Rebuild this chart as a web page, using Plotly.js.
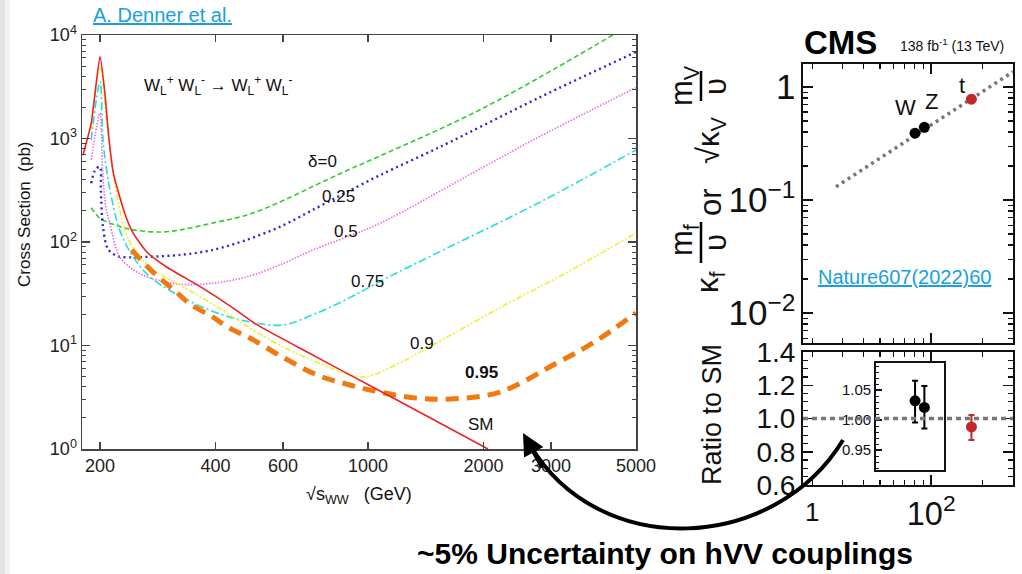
<!DOCTYPE html>
<html><head><meta charset="utf-8">
<script src="https://cdn.plot.ly/plotly-3.0.1.min.js"></script>
<style>html,body{margin:0;padding:0;background:#fff;}#chart{width:1022px;height:574px;}</style>
</head><body><div id="chart"></div>
<script>
// ---------- Left chart: W_L W_L -> W_L W_L cross sections (pb) vs sqrt(s_WW) (GeV) ----------
const smS = [180.5, 189.7, 200, 205.6, 211, 217, 232, 244, 265, 299, 365, 445, 514, 700, 897, 1190, 2055];
const smXS = [690, 1400, 6200, 2900, 1000, 450, 190, 122, 80, 57, 37, 23, 15.8, 8.5, 5.2, 2.97, 1.0];

const d0S = [189.7, 200, 220, 244, 287, 324, 395, 483, 589, 719, 881, 1077, 2000, 4350];
const d0XS = [214, 170, 145, 131, 125, 131, 153, 182, 243, 345, 490, 680, 1970, 10000];

const d025S = [189.7, 195, 200, 201, 203.6, 210, 222, 245, 270, 324, 395, 483, 589, 719, 881, 1077, 1540, 2810, 5000];
const d025XS = [370, 510, 530, 320, 140, 85, 73, 71, 72, 75, 84, 105, 140, 205, 304, 444, 828, 2510, 6850];

const d05S = [189.7, 200, 203, 207, 212, 225, 244, 270, 324, 395, 483, 589, 719, 881, 1077, 2000, 2810, 5000];
const d05XS = [620, 1760, 500, 220, 152, 72, 54, 45, 39, 40, 46, 60, 84, 112, 152, 530, 1050, 3100];

const d075S = [189.7, 200, 203.6, 208, 213, 225, 244, 270, 329, 405, 492, 600, 736, 897, 1094, 1343, 2810, 5000];
const d075XS = [965, 3546, 965, 500, 300, 131, 72, 46, 29, 20.6, 16.9, 15.8, 20.6, 29, 43, 63, 243, 775];

const d09S = [189.7, 200, 208, 217.6, 231, 240, 270, 329, 405, 492, 600, 736, 897, 993, 1210, 1475, 2460, 3040, 5000];
const d09XS = [1210, 4900, 1500, 400, 140, 97, 57, 37, 23.5, 14.8, 9.7, 6.9, 5.2, 5.0, 6.8, 10.1, 28.8, 43, 122];

const d095S = [242, 263, 290, 316, 344, 394, 430, 492, 600, 736, 897, 1094, 1343, 1637, 2208, 3110, 3865, 5000];
const d095XS = [84, 60, 43, 33, 25, 18.8, 15.1, 11.8, 7.7, 5.2, 4.15, 3.5, 3.1, 3.04, 3.55, 6.8, 10.6, 20.6];

const xTickVals = [200, 400, 600, 1000, 2000, 3000, 5000];
const xTickText = ['200', '400', '600', '1000', '2000', '3000', '5000'];
const yTickVals = [1, 10, 100, 1000, 10000];
const yTickText = ['10<sup>0</sup>', '10<sup>1</sup>', '10<sup>2</sup>', '10<sup>3</sup>', '10<sup>4</sup>'];

// ---------- Right chart: CMS couplings ----------
const particles = ['W', 'Z', 't'];
const particleMass = [80.4, 91.2, 172.5];
const reducedCoupling = [0.39, 0.44, 0.78];
const smLineMass = [27.6, 303];
const smLineValue = [0.131, 1.365];
const vRatio = [1.032, 1.021];         // W, Z (inset)
const vRatioUp = [0.0335, 0.0355];
const vRatioDown = [0.036, 0.035];
const topRatio = [0.949];
const topRatioUp = [0.072];
const topRatioDown = [0.078];

const W = 1022, H = 574;
const px = v => v / W;
const py = v => 1 - v / H;
const FONT = 'Liberation Sans, Arial, Helvetica, sans-serif';

function curve(x, y, color, width, dash, name, smooth) {
  return {x: x, y: y, xaxis: 'x', yaxis: 'y', type: 'scatter', mode: 'lines', name: name,
    line: {color: color, width: width, dash: dash, shape: 'spline', smoothing: smooth}, hoverinfo: 'skip'};
}

const data = [
  curve(d0S, d0XS, '#33cc33', 1.6, '5px,3px', 'δ=0', 1),
  curve(d025S, d025XS, '#2a2acc', 2.4, '2px,3.5px', '0.25', 0.9),
  curve(d05S, d05XS, '#ee66ee', 1.6, '1.5px,1.5px', '0.5', 0.9),
  curve(d075S, d075XS, '#22dddd', 1.6, '8px,3px,2px,3px', '0.75', 1),
  curve(d09S, d09XS, '#eeee33', 1.6, '6px,2px,2px,2px,2px,2px', '0.9', 1),
  curve(d095S, d095XS, '#f07a10', 5, '13px,8px', '0.95', 1),
  curve(smS, smXS, '#ee2222', 1.6, 'solid', 'SM', 0.5),
  // CMS top panel
  {x: smLineMass, y: smLineValue, xaxis: 'x2', yaxis: 'y2', mode: 'lines', type: 'scatter',
    line: {color: '#777', width: 3.5, dash: '3px,4px'}, hoverinfo: 'skip'},
  {x: particleMass.slice(0, 2), y: reducedCoupling.slice(0, 2), xaxis: 'x2', yaxis: 'y2', mode: 'markers', type: 'scatter',
    marker: {color: '#000', size: 11}, hoverinfo: 'skip'},
  {x: particleMass.slice(2), y: reducedCoupling.slice(2), xaxis: 'x2', yaxis: 'y2', mode: 'markers', type: 'scatter',
    marker: {color: '#c0282a', size: 11}, hoverinfo: 'skip'},
  // CMS bottom panel (top quark ratio)
  {x: particleMass.slice(2), y: topRatio, xaxis: 'x3', yaxis: 'y3', mode: 'markers', type: 'scatter',
    marker: {color: '#c0282a', size: 11},
    error_y: {type: 'data', symmetric: false, array: topRatioUp, arrayminus: topRatioDown, color: '#c0282a', thickness: 2, width: 3},
    hoverinfo: 'skip'},
  // inset (W, Z ratios)
  {x: particleMass.slice(0, 2), y: vRatio, xaxis: 'x4', yaxis: 'y4', mode: 'markers', type: 'scatter',
    marker: {color: '#000', size: 11},
    error_y: {type: 'data', symmetric: false, array: vRatioUp, arrayminus: vRatioDown, color: '#000', thickness: 2, width: 3},
    hoverinfo: 'skip'}
];

const leftAxisCommon = {showline: true, linecolor: '#444', linewidth: 1.5, mirror: 'ticks', ticks: 'inside',
  tickcolor: '#444', tickwidth: 1.3, showgrid: false, zeroline: false,
  tickfont: {family: FONT, size: 18, color: '#222'}};
const cmsAxisCommon = {showline: true, linecolor: '#111', linewidth: 2, mirror: 'ticks', ticks: 'inside',
  tickcolor: '#111', tickwidth: 1.5, ticklen: 10, showgrid: false, zeroline: false,
  tickfont: {family: FONT, size: 28, color: '#111'}};

const layout = {
  width: W, height: H,
  margin: {l: 0, r: 0, t: 0, b: 0},
  paper_bgcolor: '#fff', plot_bgcolor: 'rgba(0,0,0,0)',
  showlegend: false,
  xaxis: Object.assign({}, leftAxisCommon, {domain: [px(82), px(636)], anchor: 'y', type: 'log',
    range: [Math.log10(179.5), Math.log10(5000)], tickmode: 'array', tickvals: xTickVals, ticktext: xTickText, ticklen: 7}),
  yaxis: Object.assign({}, leftAxisCommon, {domain: [py(449), py(35)], anchor: 'x', type: 'log',
    range: [0, 4], tickmode: 'array', tickvals: yTickVals, ticktext: yTickText, ticklen: 8,
    minor: {ticks: 'inside', ticklen: 4, dtick: 'D1', tickcolor: '#444', tickwidth: 1, showgrid: false}}),
  xaxis2: Object.assign({}, cmsAxisCommon, {domain: [px(803), px(1013)], anchor: 'y2', type: 'log',
    range: [1.247, 2.481], dtick: 1, showticklabels: false,
    minor: {ticks: 'inside', ticklen: 5, dtick: 'D1', tickcolor: '#111', tickwidth: 1.2, showgrid: false}}),
  yaxis2: Object.assign({}, cmsAxisCommon, {domain: [py(343), py(64)], anchor: 'x2', type: 'log',
    range: [-2.265, 0.2035], dtick: 1, exponentformat: 'power',
    minor: {ticks: 'inside', ticklen: 5, dtick: 'D1', tickcolor: '#111', tickwidth: 1.2, showgrid: false}}),
  xaxis3: Object.assign({}, cmsAxisCommon, {domain: [px(803), px(1013)], anchor: 'y3', type: 'log',
    range: [1.247, 2.481], dtick: 1, exponentformat: 'power', tickfont: {family: FONT, size: 26, color: '#111'},
    minor: {ticks: 'inside', ticklen: 5, dtick: 'D1', tickcolor: '#111', tickwidth: 1.2, showgrid: false}}),
  yaxis3: Object.assign({}, cmsAxisCommon, {domain: [py(485), py(352)], anchor: 'x3',
    range: [0.6, 1.4], tick0: 0.6, dtick: 0.2, tickformat: '.1f',
    minor: {ticks: 'inside', ticklen: 5, dtick: 0.05, tickcolor: '#111', tickwidth: 1.2, showgrid: false}}),
  xaxis4: {domain: [px(875.7), px(944.3)], anchor: 'y4', type: 'log', range: [1.674, 2.077],
    showline: true, linecolor: '#111', linewidth: 1.5, mirror: true, ticks: '', showticklabels: false,
    showgrid: false, zeroline: false},
  yaxis4: {domain: [py(470), py(362.7)], anchor: 'x4', range: [0.9167, 1.0955],
    tick0: 0.95, dtick: 0.05, tickformat: '.2f', ticks: 'inside', ticklen: 6, tickcolor: '#111', tickwidth: 1.2,
    showline: true, linecolor: '#111', linewidth: 1.5, mirror: true, showgrid: false, zeroline: false,
    tickfont: {family: FONT, size: 15, color: '#111'},
    minor: {ticks: 'inside', ticklen: 3, dtick: 0.01, tickcolor: '#111', tickwidth: 1, showgrid: false}},
  shapes: [
    {type: 'rect', xref: 'paper', yref: 'paper', x0: 0, x1: px(5), y0: 0, y1: 1, fillcolor: '#e4e4e4', line: {width: 0}, layer: 'below'},
    {type: 'rect', xref: 'paper', yref: 'paper', x0: px(5), x1: px(10), y0: 0, y1: 1, fillcolor: '#f3f3f3', line: {width: 0}, layer: 'below'},
    {type: 'line', xref: 'x3 domain', yref: 'y3', x0: 0, x1: 1, y0: 1, y1: 1, line: {color: '#777', width: 3.5, dash: '5px,4px'}},
    // fraction bars of the CMS y title
    {type: 'line', xref: 'paper', yref: 'paper', x0: px(701), x1: px(701), y0: py(222), y1: py(263), line: {color: '#000', width: 2.5}},
    {type: 'line', xref: 'paper', yref: 'paper', x0: px(701), x1: px(701), y0: py(71), y1: py(101), line: {color: '#000', width: 2.5}},
    // curved arrow
    {type: 'path', xref: 'paper', yref: 'paper',
      path: 'M ' + px(843) + ',' + py(440) + ' C ' + px(775) + ',' + py(552) + ' ' + px(600) + ',' + py(562) + ' ' + px(530) + ',' + py(445),
      line: {color: '#000', width: 4}}
  ],
  annotations: []
};

function ann(text, x, y, size, opts) {
  return Object.assign({text: text, xref: 'paper', yref: 'paper', x: px(x), y: py(y), showarrow: false,
    xanchor: 'center', yanchor: 'middle', font: {family: FONT, size: size, color: '#111'}}, opts || {});
}

layout.annotations.push(
  ann('<u>A. Denner et al.</u>', 162, 15, 20, {font: {family: FONT, size: 20, color: '#1a9fe0'}}),
  ann('W<sub>L</sub><sup>+</sup> W<sub>L</sub><sup>-</sup> → W<sub>L</sub><sup>+</sup> W<sub>L</sub><sup>-</sup>', 218, 85, 17),
  ann('δ=0', 322, 161, 17),
  ann('0.25', 338, 197, 17),
  ann('0.5', 346, 231, 17),
  ann('0.75', 367, 281, 17),
  ann('0.9', 422, 343, 17),
  ann('<b>0.95</b>', 481, 372, 17),
  ann('SM', 481, 424, 17),
  ann('Cross Section  (pb)', 24, 214, 17, {textangle: -90}),
  ann('√s<sub>WW</sub>   (GeV)', 359, 495, 18),
  // CMS
  ann('<b>CMS</b>', 840, 43, 32, {font: {family: FONT, size: 33, color: '#000'}}),
  ann('138 fb<sup>-1</sup> (13 TeV)', 952, 45, 14),
  ann('W', 905, 107, 22),
  ann('Z', 931, 101, 22),
  ann('t', 962, 85, 22),
  ann('<u>Nature607(2022)60</u>', 904, 277, 20, {font: {family: FONT, size: 20, color: '#1a9fe0'}}),
  ann('κ<sub>f</sub>', 710, 282, 31, {textangle: -90}),
  ann('m<sub>f</sub>', 684, 240, 31, {textangle: -90}),
  ann('υ', 716, 243, 31, {textangle: -90}),
  ann('or', 710, 202, 31, {textangle: -90}),
  ann('√κ<sub>V</sub>', 711, 140, 31, {textangle: -90}),
  ann('m<sub>V</sub>', 684, 86, 31, {textangle: -90}),
  ann('υ', 716, 87, 31, {textangle: -90}),
  ann('Ratio to SM', 712, 415, 27, {textangle: -90}),
  ann('1', 812, 512, 26),
  ann('<b>~5% Uncertainty on hVV couplings</b>', 665, 553, 30, {font: {family: FONT, size: 30, color: '#000'}}),
  {text: '', xref: 'paper', yref: 'paper', x: px(523), y: py(433), showarrow: true, ax: 20, ay: 36,
    arrowhead: 2, arrowsize: 1.1, arrowwidth: 4, arrowcolor: '#000', standoff: 0}
);

Plotly.newPlot('chart', data, layout, {displayModeBar: false, staticPlot: true});
</script></body></html>
